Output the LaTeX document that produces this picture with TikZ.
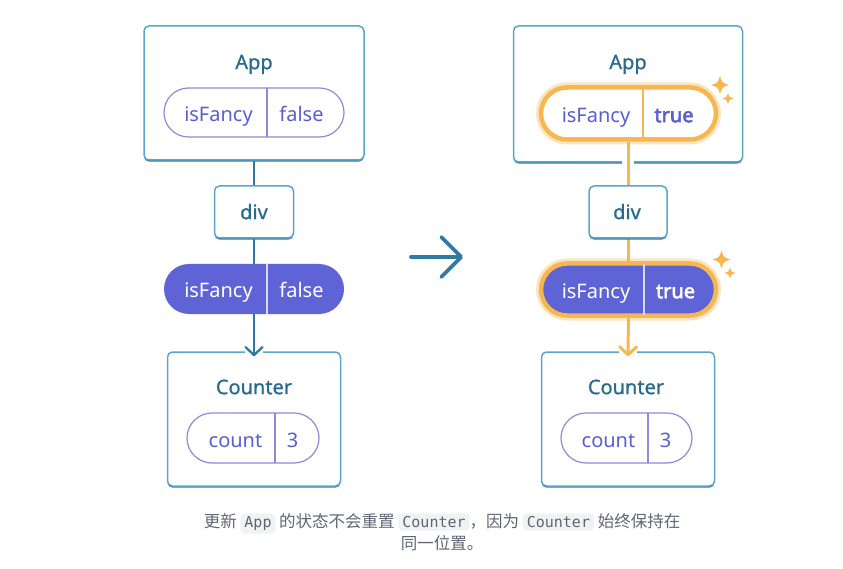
\documentclass[tikz,border=0pt]{standalone}
\usepackage{fontspec}
\setmainfont{Noto Sans}
\setmonofont{DejaVu Sans Mono}
\newfontfamily\cjk{Noto Sans CJK SC}
\newfontfamily\medium{Noto Sans}[RawFeature={embolden=0.8}]
\newfontfamily\heavy{Noto Sans}[RawFeature={embolden=2.6}]
\usetikzlibrary{shapes.misc, arrows.meta, shadows}

\definecolor{boxline}{HTML}{5AA6CB}
\definecolor{boxdark}{HTML}{2F7AA2}
\definecolor{labeltext}{HTML}{2A6A8E}
\definecolor{pillline}{HTML}{8C8AD9}
\definecolor{pilltext}{HTML}{5A5ECF}
\definecolor{pillfill}{HTML}{5E63D6}
\definecolor{glow}{HTML}{F6B650}
\definecolor{glowsoft}{HTML}{FCE5BE}
\definecolor{captext}{HTML}{5F6673}
\definecolor{codebg}{HTML}{F1F2F4}

\newcommand\codeword[1]{\tikz[baseline=(cw.base)]\node (cw) [fill=codebg, rounded corners=4pt, inner xsep=4pt, inner ysep=3pt] {\ttfamily\fontsize{15}{17}\selectfont #1};}
% sparkle: x, y, size
\newcommand\sparkle[3]{%
  \fill[glow] (#1,#2-#3) .. controls (#1+0.24*#3,#2-0.24*#3) .. (#1+#3,#2)
    .. controls (#1+0.24*#3,#2+0.24*#3) .. (#1,#2+#3)
    .. controls (#1-0.24*#3,#2+0.24*#3) .. (#1-#3,#2)
    .. controls (#1-0.24*#3,#2-0.24*#3) .. (#1,#2-#3) -- cycle;}

\begin{document}
\begin{tikzpicture}[x=1pt, y=-1pt,
    box/.style={draw=boxline, line width=1.5pt, rounded corners=5pt, fill=white,
      drop shadow={shadow xshift=0pt, shadow yshift=-1.6pt, fill=boxdark, opacity=1}},
    pill/.style={rounded rectangle, draw=pillline, line width=1.2pt, fill=white, inner sep=0pt},
    filledpill/.style={rounded rectangle, fill=pillfill, inner sep=0pt},
    glowing/.style={draw=glow, line width=4.5pt, preaction={draw=glowsoft, line width=10pt}},
    title/.style={text=labeltext, font=\medium\fontsize{20}{24}\selectfont, inner sep=0pt, text height=14.3pt, text depth=0pt},
    key/.style={text=pilltext, font=\fontsize{20}{24}\selectfont, inner sep=0pt, text height=14.3pt, text depth=0pt},
    value/.style={key, font=\heavy\fontsize{20}{24}\selectfont},
    link/.style={draw=boxdark, line width=2.3pt},
    linkB/.style={draw=glow, line width=3pt},
    tip/.style={-{Straight Barb[length=8pt, width=17pt, round]}, shorten >=-5pt}]

    \useasboundingbox (0,0) rectangle (843,569);

    % --- Before: App holds isFancy = false ---
    \node[box, minimum width=220pt, minimum height=134pt] (appA) at (254,93) {};
    \node[title] (appAname) at (254,62) {App};
    \node[pill, minimum width=180pt, minimum height=49pt] (stateA) at (254,112.5) {};
    \node[key] (stateAkey) at (218.5,114) {isFancy};
    \node[key] (stateAval) at (301.5,114) {false};
    \draw[pillline, line width=1.2pt] (267,88) -- (267,137);

    % --- Before: connector, div, filled pill ---
    \node[filledpill, minimum width=180pt, minimum height=50pt] (fancyA) at (254,289) {};
    \draw[link] (appA.south) -- (fancyA.north);
    \node[box, minimum width=79pt, minimum height=52pt] (divA) at (254,212) {};
    \node[title] (divAname) at (254,212) {div};
    \node[key, text=white] (fancyAkey) at (218.5,290.5) {isFancy};
    \node[key, text=white] (fancyAval) at (301.5,290.5) {false};
    \draw[white!75!pillfill, line width=1.2pt] (267,264) -- (267,314);

    % --- Before: Counter ---
    \node[box, minimum width=173pt, minimum height=134pt] (counterA) at (254,419) {};
    \node[title] (counterAname) at (254,387) {Counter};
    \node[pill, minimum width=132pt, minimum height=50pt] (countA) at (253,438) {};
    \node[key] (countAkey) at (235.5,440) {count};
    \node[key] (countAval) at (292.5,440) {3};
    \draw[pillline, line width=1.2pt] (275,413) -- (275,463);
    \fill[white] (counterA.north) ++(-9,-3) rectangle ++(18,6);
    \draw[link, tip] (fancyA.south) -- (counterA.north);

    % --- Middle arrow ---
    \coordinate (before) at (411,257);
    \coordinate (after) at (463,257);
    \draw[draw=boxdark, line width=3.6pt, line cap=round,
      -{Straight Barb[length=20pt, width=40pt, round]}] (before) -- (after);

    % --- After: App holds isFancy = true ---
    \node[box, minimum width=229pt, minimum height=136pt] (appB) at (628,94) {};
    \node[title] (appBname) at (628,62) {App};
    \node[pill, glowing, minimum width=175pt, minimum height=52pt] (stateB) at (628.5,113.5) {};
    \node[key] (stateBkey) at (596,115) {isFancy};
    \node[value] (stateBval) at (674,115) {true};
    \draw[glow, line width=1.2pt] (643,88) -- (643,139);
    \sparkle{720}{85}{9}
    \sparkle{728}{98.5}{5.5}

    % --- After: connector, div, glowing filled pill ---
    \node[filledpill, glowing, minimum width=175pt, minimum height=52pt] (fancyB) at (628.5,289.5) {};
    \fill[white] (appB.south) ++(-6,-3) rectangle ++(12,6);
    \draw[linkB] (stateB.south) -- (fancyB.north);
    \node[box, minimum width=78pt, minimum height=52pt] (divB) at (628,212) {};
    \node[title] (divBname) at (627,212) {div};
    \node[key, text=white] (fancyBkey) at (596,291) {isFancy};
    \node[value, text=white] (fancyBval) at (675.5,291) {true};
    \draw[white!75!pillfill, line width=1.2pt] (644,264) -- (644,315);
    \sparkle{721.5}{259.5}{9}
    \sparkle{730}{273}{5.5}

    % --- After: Counter ---
    \node[box, minimum width=173pt, minimum height=134pt] (counterB) at (628,419) {};
    \node[title] (counterBname) at (626,387) {Counter};
    \node[pill, minimum width=131pt, minimum height=50pt] (countB) at (626.5,438) {};
    \node[key] (countBkey) at (608.5,440) {count};
    \node[key] (countBval) at (665.5,440) {3};
    \draw[pillline, line width=1.2pt] (648,413) -- (648,463);
    \fill[white] (counterB.north) ++(-9,-3) rectangle ++(18,6);
    \draw[linkB, tip] (fancyB.south) -- (counterB.north);

    % --- Caption ---
    \node[text=captext, align=center, font=\cjk\fontsize{16.5}{22}\selectfont] (note) at (442,532)
      {更新 \codeword{App} 的状态不会重置 \codeword{Counter}，因为 \codeword{Counter} 始终保持在\\同一位置。};
\end{tikzpicture}
\end{document}
